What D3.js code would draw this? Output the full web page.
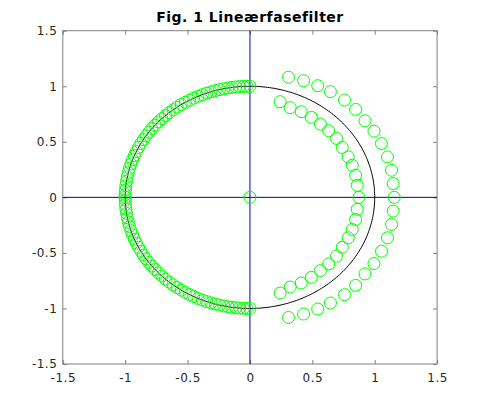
<!DOCTYPE html>
<html>
<head>
<meta charset="utf-8">
<script src="https://cdn.jsdelivr.net/npm/d3@7"></script>
<style>
  body { margin: 0; background: #fff; }
  svg { display: block; font-family: 'DejaVu Sans', sans-serif; }
</style>
</head>
<body>
<svg width="483" height="409"></svg>
<script>
// tick labels
const xTicks = [-1.5, -1, -0.5, 0, 0.5, 1, 1.5]
const yTicks = [-1.5, -1, -0.5, 0, 0.5, 1, 1.5]

// zeros on the unit circle, upper half (degrees)
const circleZeroAngles = [90.0, 91.4, 93.0, 94.7, 96.5, 98.3, 100.2, 102.1, 104.1, 106.1,
  108.2, 110.3, 112.4, 114.6, 116.8, 119.0, 121.2, 123.4, 125.7, 128.0, 130.3, 132.6,
  134.9, 137.2, 139.5, 141.8, 144.1, 146.4, 148.7, 151.0, 153.3, 155.6, 157.9, 160.2,
  162.5, 164.8, 167.1, 169.4, 171.7, 174.0, 176.3, 178.6, 180.0]

// zeros outside the unit circle, upper half (re, im)
const outerRe = [0.309, 0.430, 0.543, 0.645, 0.758, 0.847, 0.922, 0.994, 1.054, 1.102, 1.135, 1.148, 1.156]
const outerIm = [1.081, 1.050, 1.005, 0.951, 0.876, 0.792, 0.689, 0.596, 0.485, 0.364, 0.244, 0.124, 0]

// zeros inside the unit circle, upper half (re, im)
const innerRe = [0.242, 0.323, 0.411, 0.492, 0.565, 0.631, 0.694, 0.740, 0.788, 0.820, 0.847, 0.860, 0.873]
const innerIm = [0.861, 0.807, 0.771, 0.720, 0.659, 0.599, 0.530, 0.449, 0.364, 0.289, 0.199, 0.108, 0]

// zero at the origin
const originZero = [[0, 0]]

const svg = d3.select('svg')
const W = 483, H = 409
const margin = {top: 30.7, right: 45.9, bottom: 45, left: 62.8}

const x = d3.scaleLinear().domain([-1.5, 1.5]).range([margin.left, W - margin.right])
const y = d3.scaleLinear().domain([-1.5, 1.5]).range([H - margin.bottom, margin.top])

const fmt = d => String(d)
const axisColor = '#808080'
const textColor = '#262626'

// build the zero list (conjugates mirror the upper half)
const zeros = []
circleZeroAngles.forEach(a => {
  const t = a * Math.PI / 180
  zeros.push([Math.cos(t), Math.sin(t)])
  if (a !== 180 && a !== 0) zeros.push([Math.cos(t), -Math.sin(t)])
})
outerRe.forEach((re, i) => {
  zeros.push([re, outerIm[i]])
  if (outerIm[i] !== 0) zeros.push([re, -outerIm[i]])
})
innerRe.forEach((re, i) => {
  zeros.push([re, innerIm[i]])
  if (innerIm[i] !== 0) zeros.push([re, -innerIm[i]])
})
originZero.forEach(z => zeros.push(z))

// axes
const axBottom = svg.append('g')
  .attr('transform', 'translate(0,' + y(-1.5) + ')')
  .call(d3.axisBottom(x).tickValues(xTicks).tickFormat(fmt).tickSize(-4).tickPadding(9))
const axTop = svg.append('g')
  .attr('transform', 'translate(0,' + y(1.5) + ')')
  .call(d3.axisTop(x).tickValues(xTicks).tickFormat('').tickSize(-4))
const axLeft = svg.append('g')
  .attr('transform', 'translate(' + x(-1.5) + ',0)')
  .call(d3.axisLeft(y).tickValues(yTicks).tickFormat(fmt).tickSize(-4).tickPadding(5.5))
const axRight = svg.append('g')
  .attr('transform', 'translate(' + x(1.5) + ',0)')
  .call(d3.axisRight(y).tickValues(yTicks).tickFormat('').tickSize(-4))

;[axBottom, axTop, axLeft, axRight].forEach(g => {
  g.select('.domain').remove()
  g.selectAll('.tick line').attr('stroke', axisColor)
  g.selectAll('.tick text').attr('fill', textColor).attr('font-size', 12)
    .attr('letter-spacing', 0.5)
    .attr('font-family', 'DejaVu Sans, sans-serif')
})

svg.append('rect')
  .attr('x', x(-1.5)).attr('y', y(1.5))
  .attr('width', x(1.5) - x(-1.5)).attr('height', y(-1.5) - y(1.5))
  .attr('fill', 'none').attr('stroke', axisColor).attr('stroke-width', 1)

// zero lines through the origin
svg.append('line')
  .attr('x1', x(-1.5)).attr('x2', x(1.5)).attr('y1', y(0)).attr('y2', y(0))
  .attr('stroke', '#0000b4').attr('stroke-width', 1)
svg.append('line')
  .attr('x1', x(0)).attr('x2', x(0)).attr('y1', y(-1.5)).attr('y2', y(1.5))
  .attr('stroke', '#0000b4').attr('stroke-width', 1)

// unit circle
const circlePts = d3.range(0, 361, 1).map(a => [Math.cos(a * Math.PI / 180), Math.sin(a * Math.PI / 180)])
svg.append('path')
  .datum(circlePts)
  .attr('fill', 'none')
  .attr('stroke', '#000')
  .attr('stroke-width', 1)
  .attr('d', d3.line().x(d => x(d[0])).y(d => y(d[1])))

// zeros
svg.append('g')
  .selectAll('circle')
  .data(zeros)
  .enter().append('circle')
    .attr('cx', d => x(d[0]))
    .attr('cy', d => y(d[1]))
    .attr('r', 6)
    .attr('fill', 'none')
    .attr('stroke', '#00ff00')
    .attr('stroke-width', 1)

// title
svg.append('text')
  .attr('x', (x(-1.5) + x(1.5)) / 2)
  .attr('y', 22)
  .attr('text-anchor', 'middle')
  .attr('font-size', 14)
  .attr('letter-spacing', 0.5)
  .attr('font-weight', 'bold')
  .attr('fill', '#000')
  .text('Fig. 1 Lineærfasefilter')
</script>
</body>
</html>
